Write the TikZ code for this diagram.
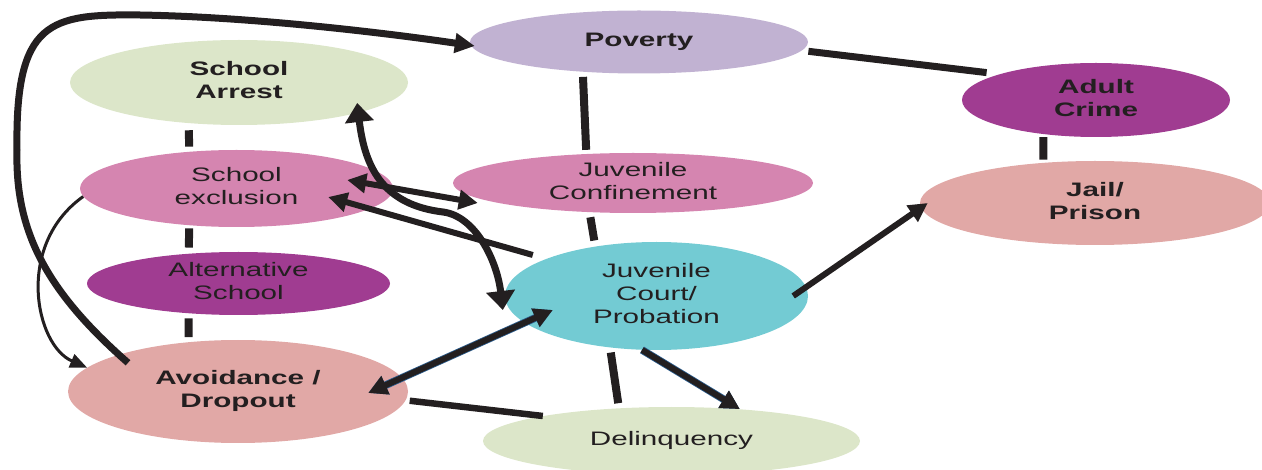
\documentclass[tikz,border=0pt]{standalone}
\usepackage{fontspec}
\setmainfont{Liberation Sans}
\usepackage{graphicx}
\usetikzlibrary{shapes.geometric, arrows.meta}

\definecolor{ink}{HTML}{231F20}
\definecolor{lavender}{HTML}{C1B2D2}
\definecolor{sage}{HTML}{DCE6C9}
\definecolor{plum}{HTML}{A03C91}
\definecolor{orchid}{HTML}{D585B0}
\definecolor{salmon}{HTML}{E1A8A6}
\definecolor{courtblue}{HTML}{73CBD3}
\definecolor{edgeblue}{HTML}{2B5C8C}

\newcommand{\ovaltext}[1]{\scalebox{1.52}[1]{\begin{tabular}{@{}c@{}}#1\end{tabular}}}

\begin{document}
\begin{tikzpicture}[x=1pt, y=-1pt,
	oval/.style={ellipse, inner sep=0pt},
	ovtxt/.style={text=ink, font=\fontsize{19.5}{23}\selectfont},
	ovbold/.style={text=ink, font=\fontsize{19.5}{23}\selectfont\bfseries},
	link/.style={draw=ink, line width=8pt},
	arr/.style={draw=ink, line width=6pt, -{Triangle[length=19pt,width=19pt]}},
	twoarr/.style={draw=ink, line width=6pt, {Triangle[length=19pt,width=19pt]}-{Triangle[length=19pt,width=19pt]}},
	edged/.style={preaction={draw=edgeblue, line width=7.6pt}}]
	\useasboundingbox (0,0) rectangle (1262,470);

	\node[oval, fill=lavender, minimum width=338, minimum height=63, label={[ovbold]center:{\ovaltext{Poverty}}}] (poverty) at (639,42) {};
	\node[oval, fill=sage, minimum width=338, minimum height=85, label={[ovbold]center:{\ovaltext{School\\Arrest}}}] (sarrest) at (239,82.5) {};
	\node[oval, fill=plum, minimum width=268, minimum height=74, label={[ovbold]center:{\ovaltext{Adult\\Crime}}}] (adult) at (1096,100) {};
	\node[oval, fill=orchid, minimum width=313, minimum height=77, label={[ovtxt]center:{\ovaltext{School\\exclusion}}}] (sexcl) at (236.5,188.5) {};
	\node[oval, fill=orchid, minimum width=360, minimum height=60, label={[ovtxt]center:{\ovaltext{Juvenile\\Confinement}}}] (jconf) at (633,183) {};
	\node[oval, fill=salmon, minimum width=350, minimum height=84, label={[ovbold]center:{\ovaltext{Jail/\\Prison}}}] (jail) at (1095,203) {};
	\node[oval, fill=plum, minimum width=303, minimum height=63, label={[ovtxt]center:{\ovaltext{Alternative\\School}}}] (altsch) at (238.5,283.5) {};
	\node[oval, fill=courtblue, minimum width=303, minimum height=108, label={[ovtxt]center:{\ovaltext{Juvenile\\Court/\\Probation}}}] (court) at (656.5,296) {};
	\node[oval, fill=salmon, minimum width=340, minimum height=103, label={[ovbold]center:{\ovaltext{Avoidance /\\Dropout}}}] (avoid) at (238,391.5) {};
	\node[oval, fill=sage, minimum width=377, minimum height=68, label={[ovtxt]center:{\ovaltext{Delinquency}}}] (delinq) at (671.5,441) {};

	\draw[link, shorten <=5pt, shorten >=4pt] (poverty.208) -- (jconf.148);
	\draw[link, shorten <=5pt, shorten >=6pt] (jconf.214) -- (court.141);
	\draw[link, shorten <=5pt, shorten >=5pt] (court.228) -- (delinq.148);
	\draw[link, line width=7pt, shorten <=6.5pt, shorten >=13pt] (poverty.357) -- (adult.165);
	\draw[link, shorten <=3pt, shorten >=3pt] (adult.213) -- (jail.142);
	\draw[link, shorten <=7pt, shorten >=5pt] (sarrest.219) -- (sexcl.142);
	\draw[link, shorten <=3pt, shorten >=6pt] (sexcl.218) -- (altsch.149);
	\draw[link, shorten <=5pt, shorten >=5pt] (altsch.211) -- (avoid.135);
	\draw[link, line width=6.5pt, shorten <=4pt] (avoid.357) -- (delinq.169);

	\draw[arr, line width=7pt, -{Triangle[length=20pt,width=19pt]}] ([xshift=-110pt,yshift=-23pt]avoid.north) .. controls (45,290) and (15,230) .. (17,150)
		.. controls (15,20) and (50,14) .. (140,15) .. controls (260,17) and (400,35) .. ([xshift=5pt,yshift=-4pt]poverty.west);
	\draw[arr, line width=3pt, -{Triangle[length=17pt,width=14pt]}] (sexcl.183) .. controls (15,245) and (35,345) .. (avoid.171);
	\draw[arr] ([xshift=28pt,yshift=41pt]court.west) -- ([xshift=-65pt,yshift=-8.5pt]sexcl.east);
	\draw[twoarr] ([xshift=-46pt,yshift=8.5pt]sexcl.east) -- ([xshift=25pt,yshift=-20pt]jconf.west);
	\draw[twoarr, line width=7pt, {Triangle[length=19pt,width=28pt]}-{Triangle[length=19pt,width=28pt]}] ([xshift=-51pt,yshift=-20.5pt]sarrest.east) .. controls (365,170) and (385,205) .. (443,212)
		.. controls (475,216) and (497,260) .. ([xshift=-2pt,yshift=-14pt]court.west);
	\draw[arr] ([xshift=-15pt]court.east) -- ([xshift=8pt]jail.west);
	\draw[arr, edged] (court.255) -- (delinq.25);
	\draw[twoarr, edged] ([xshift=-40pt,yshift=-1.5pt]avoid.east) -- ([xshift=48pt,yshift=-14pt]court.west);
\end{tikzpicture}
\end{document}
